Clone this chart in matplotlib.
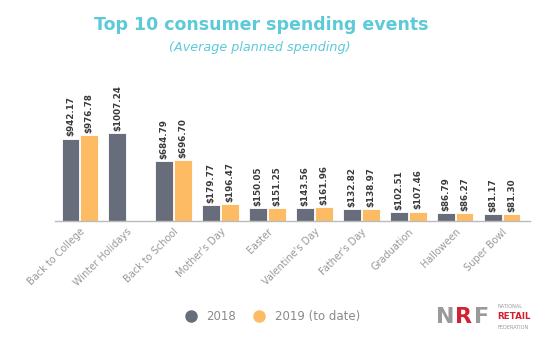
import numpy as np
import matplotlib.pyplot as plt
from matplotlib.lines import Line2D

# ------------------------------
# Data
# ------------------------------
events = ["Back to College", "Winter Holidays", "Back to School", "Mother's Day",
          "Easter", "Valentine's Day", "Father's Day", "Graduation",
          "Halloween", "Super Bowl"]
spend_2018 = [942.17, 1007.24, 684.79, 179.77, 150.05, 143.56, 132.82, 102.51, 86.79, 81.17]
spend_2019 = [976.78, np.nan, 696.70, 196.47, 151.25, 161.96, 138.97, 107.46, 86.27, 81.30]

c2018 = "#676d7a"
c2019 = "#fdbb63"
title_col = "#5ccad8"
text_col = "#8a8a8a"

fig = plt.figure(figsize=(5.5, 3.4), dpi=100)
ax = fig.add_axes([0.1, 0.35, 0.864, 0.43])

x = np.arange(len(events))
w = 0.38
b1 = ax.bar(x - 0.2, spend_2018, w, color=c2018, edgecolor="white", linewidth=0.6)
b2 = ax.bar(x + 0.2, spend_2019, w, color=c2019, edgecolor="white", linewidth=0.6)

# value labels above the bars
for bars, vals in ((b1, spend_2018), (b2, spend_2019)):
    for bar, v in zip(bars, vals):
        if np.isnan(v):
            continue
        ax.text(bar.get_x() + bar.get_width() / 2, v + 25, f"${v:.2f}",
                rotation=90, ha="center", va="bottom", fontsize=6.3,
                fontweight="bold", color="#3a3a3a")

ax.set_xlim(-0.53, 9.6)
ax.set_ylim(0, 1670)
ax.set_xticks(x)
ax.set_xticklabels(events, rotation=45, ha="right", rotation_mode="anchor",
                   fontsize=7, color="#999999")
ax.tick_params(axis="x", length=0, pad=4)
ax.set_yticks([])
for s in ["top", "right", "left"]:
    ax.spines[s].set_visible(False)
ax.spines["bottom"].set_color("#bbbbbb")
ax.spines["bottom"].set_linewidth(1.0)

# titles
fig.text(0.475, 0.925, "Top 10 consumer spending events", ha="center", va="center",
         fontsize=12.5, fontweight="bold", color=title_col)
fig.text(0.472, 0.86, "(Average planned spending)", ha="center", va="center",
         fontsize=9.2, style="italic", color=title_col)

# legend
handles = [Line2D([], [], marker="o", linestyle="", markersize=8, color=c2018),
           Line2D([], [], marker="o", linestyle="", markersize=8, color=c2019)]
fig.legend(handles, ["2018", "2019 (to date)"], loc="center", ncol=2,
           bbox_to_anchor=(0.49, 0.068), frameon=False, fontsize=8.5,
           labelcolor=text_col, handletextpad=0.3, columnspacing=1.0)

# NRF logo (text)
fig.text(0.793, 0.068, "N", ha="left", va="center", fontsize=16,
         fontweight="heavy", color="#9a9a9a")
fig.text(0.827, 0.068, "R", ha="left", va="center", fontsize=16,
         fontweight="heavy", color="#d4202f")
fig.text(0.861, 0.068, "F", ha="left", va="center", fontsize=16,
         fontweight="heavy", color="#9a9a9a")
fig.text(0.905, 0.098, "NATIONAL", ha="left", va="center", fontsize=3.6, color="#9a9a9a")
fig.text(0.904, 0.068, "RETAIL", ha="left", va="center", fontsize=6.3,
         fontweight="bold", color="#d4202f")
fig.text(0.905, 0.038, "FEDERATION", ha="left", va="center", fontsize=3.6, color="#9a9a9a")

fig.savefig("out.png", dpi=100)
